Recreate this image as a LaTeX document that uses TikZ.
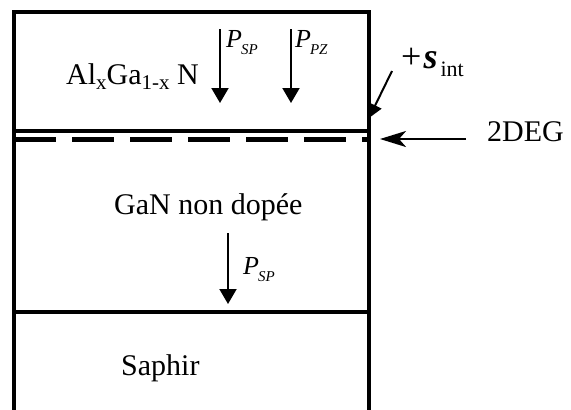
\documentclass[tikz,border=0pt]{standalone}
\usepackage{fontspec}
\setmainfont{Liberation Serif}
\usetikzlibrary{arrows.meta}
\tikzset{
  wall/.style={line width=3.5pt},
  parrow/.style={line width=2pt,-{Triangle[width=17pt,length=15pt]}},
  label/.style={inner sep=0pt,anchor=base west,font=\fontsize{30}{34}\selectfont},
}
\newcommand{\pol}[1]{{\fontsize{26}{28}\selectfont\itshape P\kern-1pt\raisebox{-7pt}{\fontsize{15}{16}\selectfont #1}}}
\begin{document}
\begin{tikzpicture}[x=1pt,y=-1pt]
\useasboundingbox (0,0) rectangle (571,410);
% coordinates
\coordinate (tl) at (14,12);
\coordinate (tr) at (369,12);
\coordinate (bl) at (14,410);
\coordinate (br) at (369,410);
\coordinate (il) at (14,131);
\coordinate (ir) at (369,131);
\coordinate (dl) at (14,139);
\coordinate (dr) at (367,139);
\coordinate (sl) at (14,312);
\coordinate (sr) at (369,312);
% box
\draw[wall,line cap=rect] (bl) -- (tl) -- (tr) -- (br);
\draw[wall] (il) -- (ir);
\draw[wall] (sl) -- (sr);
\draw[line width=5pt,dash pattern=on 42pt off 16pt] (dl) -- (dr);
% arrows
\coordinate (a1s) at (220,29);  \coordinate (a1e) at (220,103);
\coordinate (a2s) at (291,29);  \coordinate (a2e) at (291,103);
\coordinate (a3s) at (228,233); \coordinate (a3e) at (228,304);
\draw[parrow] (a1s) -- (a1e);
\draw[parrow] (a2s) -- (a2e);
\draw[parrow] (a3s) -- (a3e);
% labels
\node[label] (algan) at (66,84) {Al\raisebox{-5pt}{\fontsize{21}{22}\selectfont x}Ga\raisebox{-5pt}{\fontsize{21}{22}\selectfont 1-x} N};
\node[inner sep=0pt,anchor=base west] (psp1) at (226,47) {\pol{SP}};
\node[inner sep=0pt,anchor=base west] (ppz) at (295,47) {\pol{PZ}};
\node[inner sep=0pt,anchor=base west] (psp2) at (243,274) {\pol{SP}};
\node[label] (gan) at (114,214) {GaN non dopée};
\node[label] (saph) at (121,375) {Saphir};
\node[label] (deg) at (487,141) {2DEG};
\node[inner sep=0pt,anchor=base west] (sig) at (401,68) {{\fontsize{36}{38}\selectfont +\kern2pt\bfseries\itshape s}\kern3pt\raisebox{-8pt}{\fontsize{22}{24}\selectfont int}};
% pointer arrows
\coordinate (sigtail) at (392,71);
\coordinate (sigtip) at (369,118);
\draw[line width=2pt,-{Triangle[width=14pt,length=14pt]}] (sigtail) -- (sigtip);
\coordinate (degtail) at (466,139);
\coordinate (degtip) at (380,139);
\draw[line width=2.5pt,-{Stealth[width=16pt,length=26pt,inset=7pt]}] (degtail) -- (degtip);
\end{tikzpicture}
\end{document}
